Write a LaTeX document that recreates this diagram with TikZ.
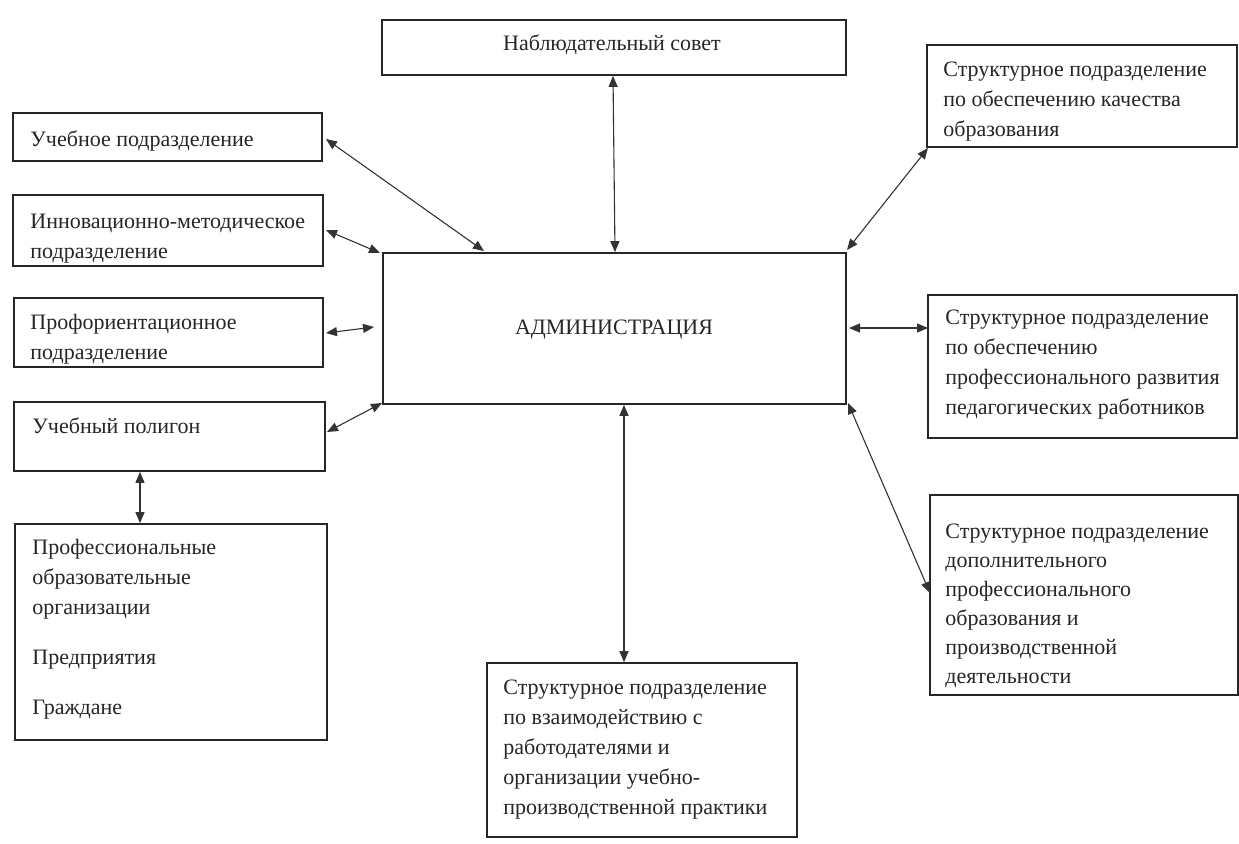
\documentclass[tikz,border=0pt]{standalone}
\usepackage{fontspec}
\setmainfont{Liberation Serif}
\usetikzlibrary{fit,arrows.meta}
\newcommand{\fs}{\fontsize{11}{15}\selectfont}
\newcommand{\fsb}{\fontsize{11}{14.5}\selectfont}
\tikzset{
  box/.style={draw=black!85, line width=0.85pt, inner sep=0pt},
  txt/.style={inner sep=0pt, anchor=north west, align=left, font=\fs, text=black!85},
  link/.style={draw=black!80, line width=0.55pt, {Triangle[length=5.5pt,width=4.5pt]}-{Triangle[length=5.5pt,width=4.5pt]}}
}
\begin{document}
\begin{tikzpicture}[x=0.5pt,y=-0.5pt]
\useasboundingbox[fill=white] (0,0) rectangle (1239,843);
% boxes
\node[box, fit={(382,20) (846,75)}] (nab) {};
\node[box, fit={(383,253) (846,404)}] (adm) {};
\node[box, fit={(13,113) (322,161)}] (ucheb) {};
\node[box, fit={(13,195) (323,266)}] (innov) {};
\node[box, fit={(14,298) (323,367)}] (prof) {};
\node[box, fit={(14,402) (325,471)}] (polig) {};
\node[box, fit={(15,524) (327,740)}] (org) {};
\node[box, fit={(927,45) (1237,147)}] (kach) {};
\node[box, fit={(928,295) (1237,438)}] (razv) {};
\node[box, fit={(930,495) (1238,695)}] (dop) {};
\node[box, fit={(487,663) (797,837)}] (vzaim) {};
% texts
\node[font=\fs, text=black!85, inner sep=0pt] (tnab) at (612,45) {Наблюдательный совет};
\node[font=\fs, text=black!85, inner sep=0pt] (tadm) at (614,330) {АДМИНИСТРАЦИЯ};
\node[txt] (tucheb) at (30,125) {\strut Учебное подразделение};
\node[txt] (tinnov) at (30,207) {\strut Инновационно-методическое\\подразделение};
\node[txt] (tprof) at (30,308) {\strut Профориентационное\\подразделение};
\node[txt] (tpolig) at (32,412) {\strut Учебный полигон};
\node[txt] (torg) at (32,533) {\strut Профессиональные\\образовательные\\организации\\[10pt]Предприятия\\[10pt]Граждане};
\node[txt] (tkach) at (943,55) {\strut Структурное подразделение\\по обеспечению качества\\образования};
\node[txt] (trazv) at (945,303) {\strut Структурное подразделение\\по обеспечению\\профессионального развития\\педагогических работников};
\node[txt, font=\fsb] (tdop) at (945,518) {\strut Структурное подразделение\\дополнительного\\профессионального\\образования и\\производственной\\деятельности};
\node[txt] (tvzaim) at (503,673) {\strut Структурное подразделение\\по взаимодействию с\\работодателями и\\организации учебно-\\производственной практики};
% connectors
\coordinate (a1) at (484,251);
\coordinate (u1) at (326,139);
\draw[link] (u1) -- (a1);
\coordinate (a2) at (380,253);
\coordinate (i1) at (326,230);
\draw[link] (i1) -- (a2);
\coordinate (a3) at (374,327);
\coordinate (p1) at (326,333);
\draw[link] (p1) -- (a3);
\coordinate (a4) at (382,403);
\coordinate (g1) at (327,432);
\draw[link] (g1) -- (a4);
\draw[link] (polig.south -| 140,0) -- (org.north -| 140,0);
\draw[link] (nab.south -| 613,0) -- (adm.north -| 615,0);
\coordinate (a5) at (847,250);
\coordinate (k1) at (928,148);
\draw[link] (a5) -- (k1);
\coordinate (a6) at (849,328);
\coordinate (r1) at (928,328);
\draw[link] (a6) -- (r1);
\coordinate (a7) at (848,403);
\coordinate (d1) at (930,593);
\draw[link] (a7) -- (d1);
\draw[link] (adm.south -| 624,0) -- (vzaim.north -| 624,0);
\end{tikzpicture}
\end{document}
